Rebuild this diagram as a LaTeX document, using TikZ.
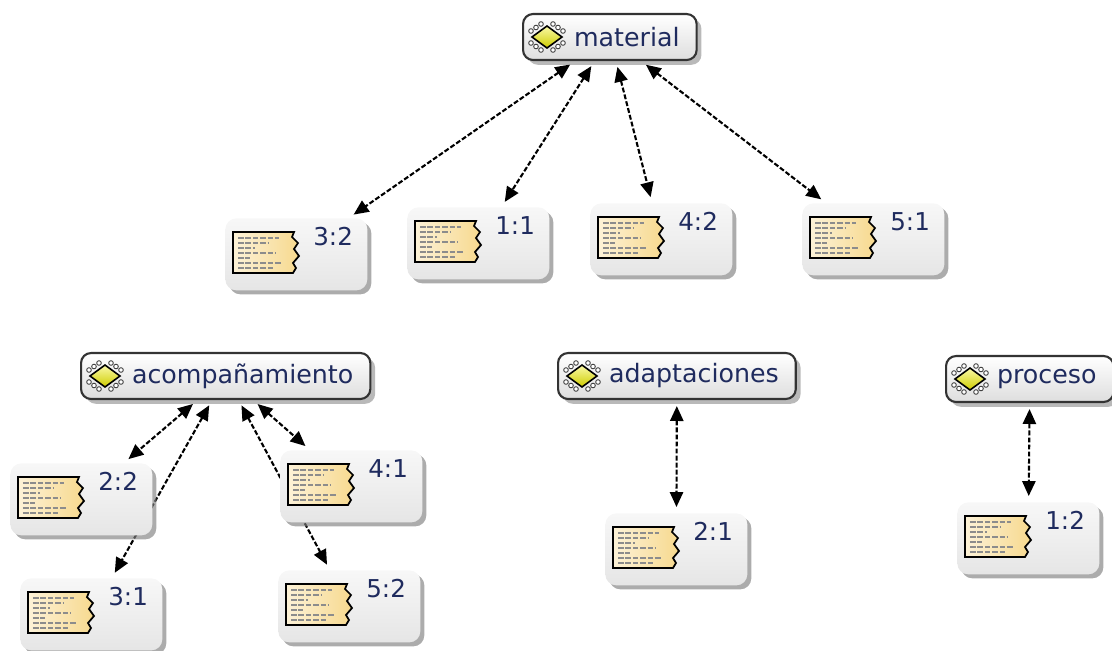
\documentclass[tikz,border=0pt]{standalone}
\usepackage{fontspec}
\setmainfont{DejaVu Sans}
\usetikzlibrary{arrows.meta,shadows,backgrounds}

\definecolor{inkblue}{HTML}{1F2B5E}
\definecolor{notepaper}{HTML}{F7D98E}
\definecolor{codeyellow}{HTML}{F2F000}

\begin{document}
\begin{tikzpicture}[x=0.02cm,y=-0.02cm,>={Stealth[inset=0pt,length=8.5pt,width=7.5pt]},
    code node/.style={anchor=west,draw=black!80,line width=1.2pt,rounded corners=0.2cm,top color=white,bottom color=black!13,drop shadow={opacity=0.55},minimum height=0.92cm,inner xsep=0.34cm,inner ysep=0pt,text=inkblue,font=\fontsize{14.4}{17}\selectfont,execute at begin node={\hspace{0.68cm}}},
    quote node/.style={anchor=north west,rounded corners=0.22cm,top color=black!3,bottom color=black!10,drop shadow={opacity=0.65,shadow xshift=0.08cm,shadow yshift=-0.08cm},minimum width=2.84cm,minimum height=1.44cm,inner sep=0pt},
    quote label/.style={anchor=base west,inner sep=0pt,text=inkblue,font=\fontsize{14}{16}\selectfont},
    link/.style={<->,line width=1.2pt,dash pattern=on 2.8pt off 1.2pt,shorten >=0.12cm,shorten <=0.12cm},
    codeicon/.pic={
        \draw[black!75,line width=0.5pt,fill=white]
            (6,-13) circle[radius=2.3] (11,-9.5) circle[radius=2.3] (16,-6) circle[radius=2.3]
            (-6,-13) circle[radius=2.3] (-11,-9.5) circle[radius=2.3] (-16,-6) circle[radius=2.3]
            (6,13) circle[radius=2.3] (11,9.5) circle[radius=2.3] (16,6) circle[radius=2.3]
            (-6,13) circle[radius=2.3] (-11,9.5) circle[radius=2.3] (-16,6) circle[radius=2.3];
        \path[draw=black,line width=0.9pt,top color=codeyellow!35,bottom color=codeyellow!85!black]
            (-15,0) -- (0,-11) -- (15,0) -- (0,11) -- cycle;
    },
    noteicon/.pic={
        \path[draw=black,line width=1pt,left color=notepaper!35,right color=notepaper]
            (0,0) -- (61,0) -- (59,5) -- (65,11) -- (61,17) -- (66,24) -- (60,31) -- (63,36) -- (60,41) -- (0,41) -- cycle;
        \draw[black!45,line width=0.7pt,dash pattern=on 3.2pt off 1pt]
            (5,6) -- (46,6) (5,11) -- (36,11) (5,16) -- (22,16) (5,21) -- (42,21)
            (5,26) -- (17,26) (5,31) -- (49,31) (5,36) -- (40,36);
    }]

    \useasboundingbox (0,0) rectangle (1112,650);

    \node (material) at (522,37) [code node]{material};
    \node (acomp) at (80,376) [code node]{acompañamiento};
    \node (adapt) at (557,376) [code node]{adaptaciones};
    \node (proceso) at (945,379) [code node]{proceso};

    \pic at ([xshift=0.5cm]material.west) {codeicon};
    \pic at ([xshift=0.5cm]acomp.west) {codeicon};
    \pic at ([xshift=0.5cm]adapt.west) {codeicon};
    \pic at ([xshift=0.5cm]proceso.west) {codeicon};

    \node (q32) at (225,218) [quote node]{};
    \node (q11) at (407,207) [quote node]{};
    \node (q42) at (590,203) [quote node]{};
    \node (q51) at (802,203) [quote node]{};
    \node (q22) at (10,463) [quote node]{};
    \node (q31) at (20,578) [quote node]{};
    \node (q41) at (280,450) [quote node]{};
    \node (q52) at (278,570) [quote node]{};
    \node (q21) at (605,513) [quote node]{};
    \node (q12) at (957,502) [quote node]{};

    \node (l32) at ([xshift=1.76cm,yshift=-0.54cm]q32.north west) [quote label]{3:2};
    \node (l11) at ([xshift=1.76cm,yshift=-0.54cm]q11.north west) [quote label]{1:1};
    \node (l42) at ([xshift=1.76cm,yshift=-0.54cm]q42.north west) [quote label]{4:2};
    \node (l51) at ([xshift=1.76cm,yshift=-0.54cm]q51.north west) [quote label]{5:1};
    \node (l22) at ([xshift=1.76cm,yshift=-0.54cm]q22.north west) [quote label]{2:2};
    \node (l31) at ([xshift=1.76cm,yshift=-0.54cm]q31.north west) [quote label]{3:1};
    \node (l41) at ([xshift=1.76cm,yshift=-0.54cm]q41.north west) [quote label]{4:1};
    \node (l52) at ([xshift=1.76cm,yshift=-0.54cm]q52.north west) [quote label]{5:2};
    \node (l21) at ([xshift=1.76cm,yshift=-0.54cm]q21.north west) [quote label]{2:1};
    \node (l12) at ([xshift=1.76cm,yshift=-0.54cm]q12.north west) [quote label]{1:2};

    \pic at ([xshift=0.16cm,yshift=-0.28cm]q32.north west) {noteicon};
    \pic at ([xshift=0.16cm,yshift=-0.28cm]q11.north west) {noteicon};
    \pic at ([xshift=0.16cm,yshift=-0.28cm]q42.north west) {noteicon};
    \pic at ([xshift=0.16cm,yshift=-0.28cm]q51.north west) {noteicon};
    \pic at ([xshift=0.16cm,yshift=-0.28cm]q22.north west) {noteicon};
    \pic at ([xshift=0.16cm,yshift=-0.28cm]q31.north west) {noteicon};
    \pic at ([xshift=0.16cm,yshift=-0.28cm]q41.north west) {noteicon};
    \pic at ([xshift=0.16cm,yshift=-0.28cm]q52.north west) {noteicon};
    \pic at ([xshift=0.16cm,yshift=-0.28cm]q21.north west) {noteicon};
    \pic at ([xshift=0.16cm,yshift=-0.28cm]q12.north west) {noteicon};

    \begin{pgfonlayer}{background}
    \path[link]
        (material) edge (q32)
        (material) edge (q11)
        (material) edge (q42)
        (material) edge (q51)

        (acomp) edge (q22)
        (acomp) edge (q31)
        (acomp) edge (q41)
        (acomp) edge (q52)

        (adapt) edge (q21)
        (proceso) edge (q12)
    ;
    \end{pgfonlayer}
\end{tikzpicture}
\end{document}
